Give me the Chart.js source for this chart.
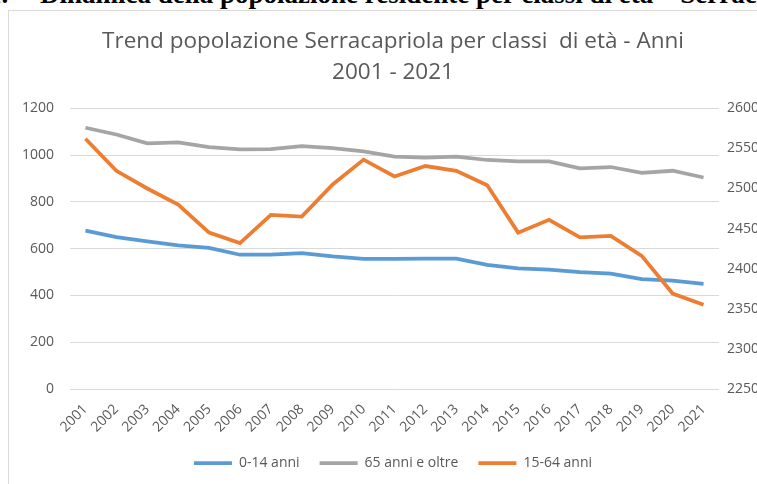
<!DOCTYPE html>
<html>
<head>
<meta charset="utf-8">
<script src="https://cdn.jsdelivr.net/npm/chart.js@4"></script>
<style>
  html, body { margin: 0; padding: 0; background: #fff; overflow: hidden; width: 757px; height: 484px; }
  .heading {
    position: absolute; top: -21px; white-space: nowrap;
    font-family: "Liberation Serif", serif; font-weight: bold; font-size: 27px; color: #000;
  }
  #box {
    position: absolute; left: 8px; top: 10px; width: 768px; height: 500px;
    border: 1px solid #d9d9d9; background: #fff;
  }
</style>
</head>
<body>
<div class="heading" style="left:-12px">1.</div>
<div class="heading" style="left:40px">Dinamica della popolazione residente per classi di età – Serracapriola</div>
<div id="box"><canvas id="trendChart"></canvas></div>
<script>
// Anni
const years = ['2001', '2002', '2003', '2004', '2005', '2006', '2007', '2008', '2009', '2010', '2011',
               '2012', '2013', '2014', '2015', '2016', '2017', '2018', '2019', '2020', '2021'];

// popolazione per classe (asse sinistro)
const age0to14 = [677, 649, 631, 614, 603, 574, 574, 581, 567, 556, 556,
                  557, 557, 531, 516, 510, 500, 493, 470, 463, 449];
const age65plus = [1117, 1088, 1050, 1054, 1034, 1024, 1025, 1038, 1030, 1016, 993,
                   989, 993, 979, 973, 973, 943, 949, 924, 933, 904];

// 15-64 anni (asse destro)
const age15to64 = [2562, 2522, 2500, 2480, 2445, 2432, 2467, 2465, 2505, 2536, 2515,
                   2528, 2522, 2504, 2445, 2461, 2439, 2441, 2416, 2369, 2355];

const titleLines = ['Trend popolazione Serracapriola per classi  di età - Anni', '2001 - 2021'];

const FONT = '"Open Sans", Lato, sans-serif';
const GREY_TEXT = '#595959';

Chart.defaults.font.family = FONT;
Chart.defaults.color = GREY_TEXT;

const canvas = document.getElementById('trendChart');
canvas.width = 768;
canvas.height = 469;

new Chart(canvas.getContext('2d'), {
    type: 'line',
    data: {
        labels: years,
        datasets: [{
            label: '0-14 anni',
            data: age0to14,
            borderColor: '#5B9BD5',
            backgroundColor: '#5B9BD5',
            borderWidth: 3.75,
            pointRadius: 0,
            yAxisID: 'y',
            order: 1
        }, {
            label: '65 anni e oltre',
            data: age65plus,
            borderColor: '#A5A5A5',
            backgroundColor: '#A5A5A5',
            borderWidth: 3.75,
            pointRadius: 0,
            yAxisID: 'y',
            order: 2
        }, {
            label: '15-64 anni',
            data: age15to64,
            borderColor: '#ED7D31',
            backgroundColor: '#ED7D31',
            borderWidth: 3.75,
            pointRadius: 0,
            yAxisID: 'y1',
            order: 0
        }]
    },
    options: {
        responsive: false,
        animation: false,
        layout: { padding: 0 },
        plugins: {
            title: {
                display: true,
                text: titleLines,
                color: GREY_TEXT,
                font: { size: 22.5, weight: 'normal', lineHeight: 1.34 },
                padding: { top: 16, bottom: 21 }
            },
            legend: {
                position: 'bottom',
                labels: {
                    usePointStyle: true,
                    pointStyle: 'line',
                    pointStyleWidth: 38,
                    padding: 20,
                    color: GREY_TEXT,
                    font: { size: 14 },
                    sort: (a, b) => a.datasetIndex - b.datasetIndex
                }
            },
            tooltip: { enabled: false }
        },
        scales: {
            x: {
                offset: true,
                grid: { display: false },
                border: { display: false },
                ticks: { minRotation: 45, maxRotation: 45, padding: 4, font: { size: 14 } },
                afterFit: s => { s.height = 47; }
            },
            y: {
                position: 'left',
                min: 0,
                max: 1200,
                ticks: { stepSize: 200, padding: 16, font: { size: 14 }, callback: v => String(v) },
                grid: { color: '#D9D9D9', drawTicks: false },
                border: { display: false },
                afterFit: s => { s.width = 61; }
            },
            y1: {
                position: 'right',
                min: 2250,
                max: 2600,
                ticks: { stepSize: 50, padding: 8, font: { size: 14 }, callback: v => String(v) },
                grid: { display: false, drawTicks: false },
                border: { display: false },
                afterFit: s => { s.width = 58; }
            }
        }
    }
});
</script>
</body>
</html>
